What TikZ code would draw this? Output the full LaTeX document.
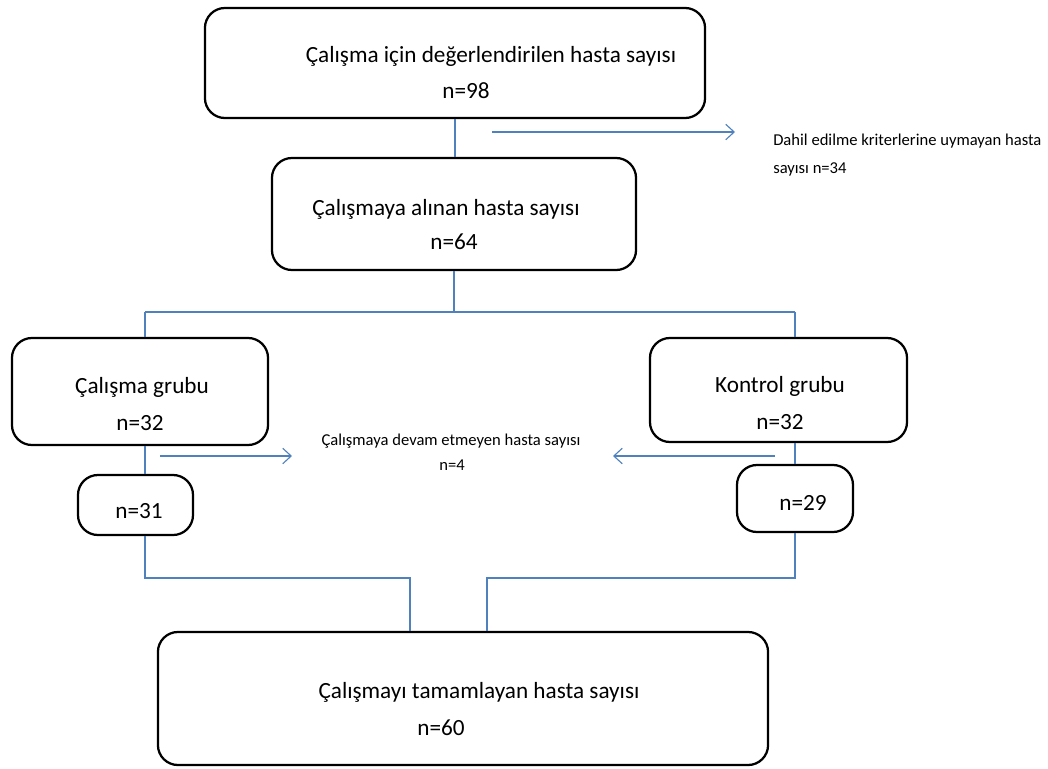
\documentclass[tikz,border=0pt]{standalone}
\usepackage{fontspec}
\setmainfont{Carlito}
\usetikzlibrary{arrows.meta}
\definecolor{linkblue}{RGB}{79,129,189}
\tikzset{
  box/.style={draw=black, line width=1.6pt, rounded corners=0.5cm},
  link/.style={draw=linkblue, line width=0.8pt},
  arr/.style={link, -{Straight Barb[length=6pt,width=11pt]}},
  lbl/.style={font=\fontsize{16.5}{19}\selectfont, inner sep=0pt},
  note/.style={font=\fontsize{11.8}{14}\selectfont, inner sep=0pt}
}
\begin{document}
\begin{tikzpicture}[x=0.025cm, y=-0.025cm]
\useasboundingbox (0,0) rectangle (1048,769);

\node[box, minimum width=12.5cm, minimum height=2.75cm] (top) at (455,63) {};
\node[lbl] (toptext) at (491,56) {Çalışma için değerlendirilen hasta sayısı};
\node[lbl] (topn) at (466,91) {n=98};

\node[box, minimum width=9.1cm, minimum height=2.8cm] (mid) at (454,214) {};
\node[lbl] (midtext) at (446,209) {Çalışmaya alınan hasta sayısı};
\node[lbl] (midn) at (454,242) {n=64};

\node[box, minimum width=6.4cm, minimum height=2.675cm] (left) at (140,391.5) {};
\node[lbl] (lefttext) at (142,387) {Çalışma grubu};
\node[lbl] (leftn) at (140,423) {n=32};

\node[box, minimum width=6.425cm, minimum height=2.6cm] (right) at (778.5,390) {};
\node[lbl] (righttext) at (780,386) {Kontrol grubu};
\node[lbl] (rightn) at (780,422) {n=32};

\node[box, minimum width=2.875cm, minimum height=1.5cm] (n31) at (135.5,505) {};
\node[lbl] (n31text) at (139,511) {n=31};

\node[box, minimum width=2.9cm, minimum height=1.675cm] (n29) at (795,498.5) {};
\node[lbl] (n29text) at (803,503) {n=29};

\node[box, minimum width=15.25cm, minimum height=3.325cm] (bot) at (463,698.5) {};
\node[lbl] (bottext) at (479,692) {Çalışmayı tamamlayan hasta sayısı};
\node[lbl] (botn) at (441,728) {n=60};

\node[note, anchor=west] (excl1) at (773,141) {Dahil edilme kriterlerine uymayan hasta};
\node[note, anchor=west] (excl2) at (773,169) {sayısı n=34};
\node[note] (drop1) at (451,441) {Çalışmaya devam etmeyen hasta sayısı};
\node[note] (drop2) at (452,465) {n=4};

\coordinate (exa) at (492,132);
\coordinate (exb) at (735,132);
\coordinate (sl) at (145,312);
\coordinate (sr) at (795,312);
\coordinate (dla) at (160,456);
\coordinate (dlb) at (292,456);
\coordinate (dra) at (775,456);
\coordinate (drb) at (613,456);
\coordinate (jl) at (410,578);
\coordinate (jr) at (487,578);

\draw[link] (top.south) -- (top.south |- mid.north);
\draw[arr] (exa) -- (exb);

\draw[link] (mid.south) -- (mid.south |- sl);
\draw[link] (sl) -- (sr);
\draw[link] (sl) -- (sl |- left.north);
\draw[link] (sr) -- (sr |- right.north);

\draw[link] (sl |- left.south) -- (sl |- n31.north);
\draw[link] (sr |- right.south) -- (sr |- n29.north);
\draw[arr] (dla) -- (dlb);
\draw[arr] (dra) -- (drb);

\draw[link] (sl |- n31.south) |- (jl) -- (jl |- bot.north);
\draw[link] (sr |- n29.south) |- (jr) -- (jr |- bot.north);

\end{tikzpicture}
\end{document}
